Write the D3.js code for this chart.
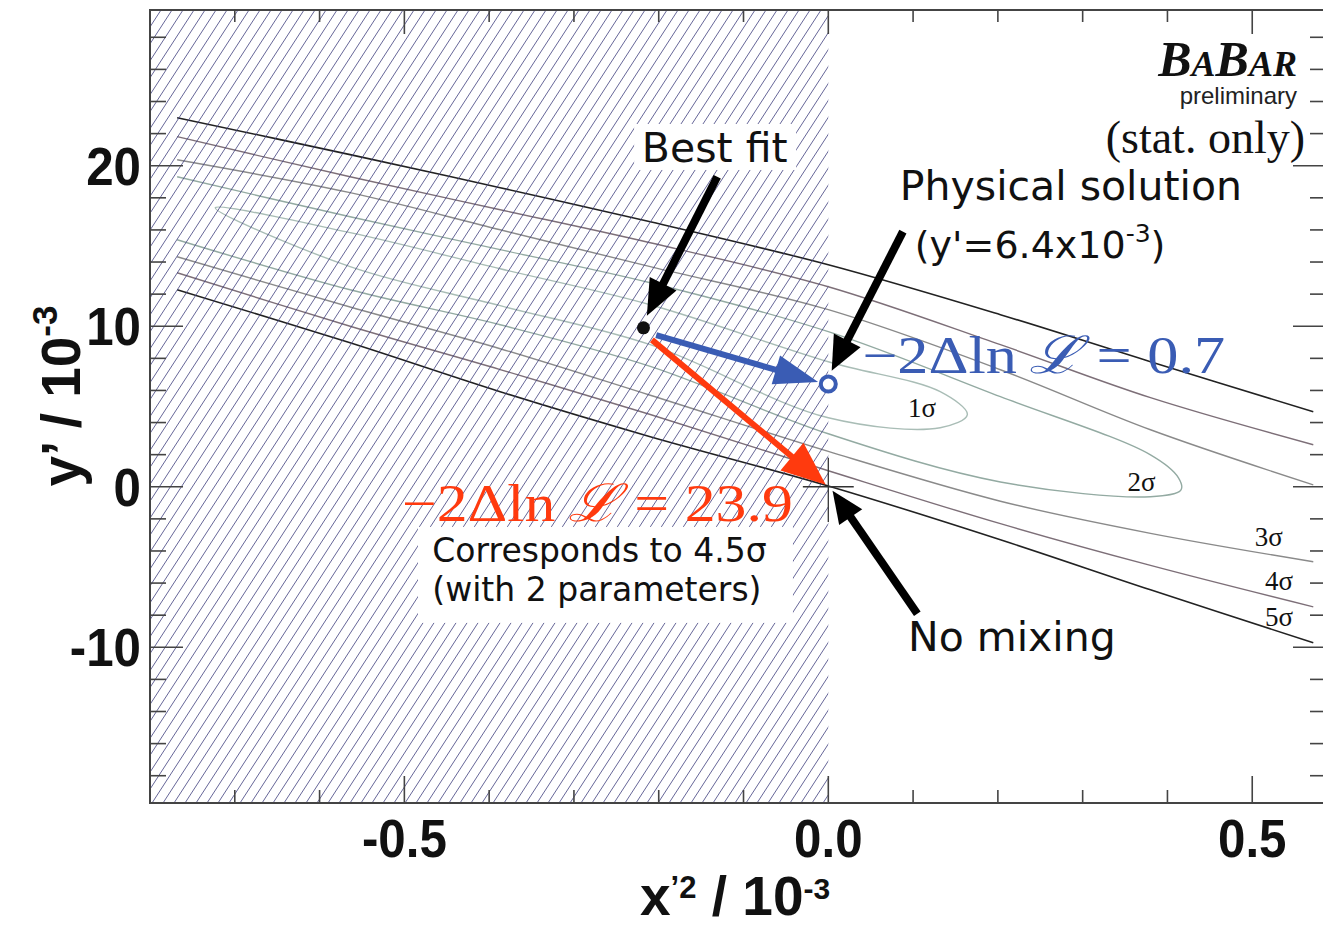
<!DOCTYPE html>
<html>
<head>
<meta charset="utf-8">
<script src="https://cdn.jsdelivr.net/npm/d3@7"></script>
<style>
  body { margin: 0; background: #fff; }
  svg { display: block; }
</style>
</head>
<body>
<svg id="chart" width="1323" height="929"></svg>
<script>
// ---- axis ranges and ticks (x'^2 and y' in units of 10^-3) ----
const xDomain = [-0.8, 0.587];
const yDomain = [-19.7, 29.7];
const xMajorTicks = [-0.5, 0.0, 0.5];
const xTickLabels = ["-0.5", "0.0", "0.5"];
const xMinorStep = 0.1;
const yMajorTicks = [-10, 0, 10, 20];
const yTickLabels = ["-10", "0", "10", "20"];
const yMinorStep = 2;
const physicalBoundary = 0;          // x'^2 < 0 is unphysical

// ---- likelihood contours (x'^2, y') ----
const sigmaNames = ["1σ", "2σ", "3σ", "4σ", "5σ"];
const contour1 = [[-0.723,17.38],[-0.564,15.83],[-0.387,13.58],[-0.210,11.34],[0.000,7.79],
                  [0.132,5.92],[0.164,4.49],[0.132,3.68],[0.000,4.30],[-0.210,8.85],
                  [-0.387,11.28],[-0.564,13.71]];
const contour2 = [[-0.768,19.31],[-0.564,16.82],[-0.387,14.77],[-0.210,12.71],[0.000,9.66],
                  [0.203,5.61],[0.380,1.99],[0.413,0.56],[0.416,-0.19],[0.380,-0.62],
                  [0.203,0.30],[0.000,3.30],[-0.210,7.50],[-0.387,10.09],[-0.564,12.27],[-0.768,15.39]];
const contour3Upper = [[-0.768,20.37],[-0.564,18.32],[-0.387,16.01],[-0.210,13.71],[0.000,11.03],
                       [0.203,7.29],[0.380,3.55],[0.572,0.12]];
const contour3Lower = [[-0.768,14.33],[-0.564,11.20],[-0.387,8.60],[-0.210,5.70],[0.000,2.20],
                       [0.203,-0.90],[0.380,-2.90],[0.572,-4.67]];
const contour4Upper = [[-0.768,21.81],[-0.564,19.31],[-0.387,17.26],[-0.210,15.20],[0.000,12.46],
                       [0.203,8.85],[0.380,5.55],[0.572,2.62]];
const contour4Lower = [[-0.768,13.33],[-0.564,10.00],[-0.387,7.30],[-0.210,4.50],[0.000,1.00],
                       [0.203,-2.30],[0.380,-4.90],[0.572,-7.48]];
const contour5Upper = [[-0.768,22.99],[-0.564,20.69],[-0.387,18.63],[-0.210,16.51],[0.000,13.83],
                       [0.203,10.72],[0.380,7.79],[0.572,4.67]];
const contour5Lower = [[-0.768,12.27],[-0.564,8.97],[-0.387,5.92],[-0.210,3.12],[0.000,0.05],
                       [0.203,-3.30],[0.380,-6.42],[0.572,-9.72]];
const sigmaLabelPos = [[0.094,4.36],[0.353,-0.25],[0.503,-3.68],[0.515,-6.42],[0.515,-8.66]];

// ---- fit points ----
const bestFit = [-0.218, 9.9];
const physicalSolution = [0, 6.4];    // y' = 6.4e-3
const noMixing = [0, 0];
const dLLPhysical = 0.7;
const dLLNoMixing = 23.9;

// ---- layout ----
const frame = { left: 150, right: 1326, top: 10, bottom: 803 };
const svg = d3.select("#chart");
const x = d3.scaleLinear().domain(xDomain).range([frame.left, frame.right]);
const y = d3.scaleLinear().domain(yDomain).range([frame.bottom, frame.top]);

svg.append("defs").append("clipPath").attr("id", "plotClip")
  .append("rect").attr("x", frame.left).attr("y", frame.top)
  .attr("width", frame.right - frame.left).attr("height", frame.bottom - frame.top);

const plot = svg.append("g").attr("clip-path", "url(#plotClip)");

// contours
const line = d3.line().x(d => x(d[0])).y(d => y(d[1])).curve(d3.curveCatmullRom.alpha(0.5));
const lineClosed = d3.line().x(d => x(d[0])).y(d => y(d[1])).curve(d3.curveCatmullRomClosed.alpha(0.5));
const contourColors = ["#a9bdb6", "#93aaa2", "#8a8a8a", "#7d6f78", "#222"];
const contourPaths = [
  { pts: contour1, closed: true, level: 0 },
  { pts: contour2, closed: false, level: 1 },
  { pts: contour3Upper, closed: false, level: 2 },
  { pts: contour3Lower, closed: false, level: 2 },
  { pts: contour4Upper, closed: false, level: 3 },
  { pts: contour4Lower, closed: false, level: 3 },
  { pts: contour5Upper, closed: false, level: 4 },
  { pts: contour5Lower, closed: false, level: 4 }
];
plot.selectAll("path.contour").data(contourPaths).join("path")
  .attr("class", "contour")
  .attr("d", d => d.closed ? lineClosed(d.pts) : line(d.pts))
  .attr("fill", "none")
  .attr("stroke", d => contourColors[d.level])
  .attr("stroke-width", d => d.level === 4 ? 1.6 : 1.4);

// hatching of the unphysical region x'^2 < 0
const hatch = plot.append("g");
const hx0 = x(xDomain[0]), hx1 = x(physicalBoundary);
const hy0 = y(yDomain[1]), hy1 = y(yDomain[0]);
hatch.append("clipPath").attr("id", "hatchClip")
  .append("rect").attr("x", hx0).attr("y", hy0).attr("width", hx1 - hx0).attr("height", hy1 - hy0);
const hatchG = hatch.append("g").attr("clip-path", "url(#hatchClip)");
const angle = 57 * Math.PI / 180;
const spacing = 11.0;
const H = hy1 - hy0;
const run = H / Math.tan(angle);
const hatchStarts = d3.range(hx0 - run - spacing, hx1 + spacing, spacing);
hatchG.selectAll("line").data(hatchStarts).join("line")
  .attr("x1", d => d).attr("y1", hy1)
  .attr("x2", d => d + run).attr("y2", hy0)
  .attr("stroke", "#40407e").attr("stroke-width", 1.0).attr("stroke-opacity", 0.8);

// sigma labels
plot.selectAll("text.sig").data(sigmaNames).join("text")
  .attr("class", "sig")
  .attr("x", (d, i) => x(sigmaLabelPos[i][0]))
  .attr("y", (d, i) => y(sigmaLabelPos[i][1]))
  .attr("font-family", "Liberation Serif, DejaVu Serif, serif")
  .attr("font-size", 27).attr("fill", "#111")
  .text(d => d);

// ---- frame and ticks ----
const axes = svg.append("g").attr("stroke", "#444").attr("fill", "none");
axes.append("rect").attr("x", frame.left).attr("y", frame.top)
  .attr("width", frame.right - frame.left).attr("height", frame.bottom - frame.top)
  .attr("stroke-width", 2);

const xMinor = d3.range(-0.8, 0.6, xMinorStep).map(v => +v.toFixed(2));
const yMinor = d3.range(-18, 30, yMinorStep);
const isMajor = (v, majors) => majors.some(m => Math.abs(m - v) < 1e-6);

xMinor.forEach(v => {
  const L = isMajor(v, xMajorTicks) ? 27 : 13;
  axes.append("line").attr("x1", x(v)).attr("x2", x(v))
    .attr("y1", frame.bottom).attr("y2", frame.bottom - L).attr("stroke-width", 1.6);
  axes.append("line").attr("x1", x(v)).attr("x2", x(v))
    .attr("y1", frame.top).attr("y2", frame.top + (isMajor(v, xMajorTicks) ? 24 : 12)).attr("stroke-width", 1.6);
});
yMinor.forEach(v => {
  const major = isMajor(v, yMajorTicks);
  axes.append("line").attr("x1", frame.left).attr("x2", frame.left + (major ? 33 : 16))
    .attr("y1", y(v)).attr("y2", y(v)).attr("stroke-width", 1.6);
  axes.append("line").attr("x1", frame.right).attr("x2", frame.right - (major ? 33 : 16))
    .attr("y1", y(v)).attr("y2", y(v)).attr("stroke-width", 1.6);
});

// tick labels
const tickFont = "Liberation Sans, Arial, sans-serif";
svg.selectAll("text.xt").data(xMajorTicks).join("text")
  .attr("class", "xt")
  .attr("transform", d => `translate(${x(d)},857) scale(0.93,1)`)
  .attr("text-anchor", "middle")
  .attr("font-family", tickFont).attr("font-weight", "bold").attr("font-size", 53)
  .attr("fill", "#111")
  .text((d, i) => xTickLabels[i]);
svg.selectAll("text.yt").data(yMajorTicks).join("text")
  .attr("class", "yt")
  .attr("transform", d => `translate(141,${y(d) + 19}) scale(0.93,1)`)
  .attr("text-anchor", "end")
  .attr("font-family", tickFont).attr("font-weight", "bold").attr("font-size", 53)
  .attr("fill", "#111")
  .text((d, i) => yTickLabels[i]);

// axis titles
const xt = svg.append("text").attr("x", 640).attr("y", 915)
  .attr("font-family", tickFont).attr("font-weight", "bold").attr("font-size", 55).attr("fill", "#111");
xt.append("tspan").text("x");
xt.append("tspan").attr("dy", -17).attr("font-size", 31).text("’2");
xt.append("tspan").attr("dy", 17).text(" / 10");
xt.append("tspan").attr("dy", -16).attr("font-size", 30).text("-3");

const yt = svg.append("text").attr("transform", "translate(80,396) rotate(-90)")
  .attr("text-anchor", "middle")
  .attr("font-family", tickFont).attr("font-weight", "bold").attr("font-size", 55).attr("fill", "#111");
yt.append("tspan").text("y’ / 10");
yt.append("tspan").attr("dy", -23).attr("font-size", 35).text("-3");

// ---- annotations ----
function arrow(from, to, color, width, headLen, headHalf) {
  const p0 = [x(from[0]), y(from[1])], p1 = [x(to[0]), y(to[1])];
  const dx = p1[0] - p0[0], dy = p1[1] - p0[1];
  const len = Math.hypot(dx, dy);
  const ux = dx / len, uy = dy / len;
  const bx = p1[0] - ux * headLen, by = p1[1] - uy * headLen;
  svg.append("line").attr("x1", p0[0]).attr("y1", p0[1])
    .attr("x2", bx + ux * 2).attr("y2", by + uy * 2)
    .attr("stroke", color).attr("stroke-width", width);
  svg.append("polygon")
    .attr("points", [[p1[0], p1[1]], [bx - uy * headHalf, by + ux * headHalf], [bx + uy * headHalf, by - ux * headHalf]]
      .map(p => p.join(",")).join(" "))
    .attr("fill", color);
}

// no-mixing marker
svg.append("line").attr("x1", x(noMixing[0] - 0.03)).attr("x2", x(noMixing[0] + 0.03))
  .attr("y1", y(noMixing[1])).attr("y2", y(noMixing[1])).attr("stroke", "#333").attr("stroke-width", 1.3);
svg.append("line").attr("x1", x(noMixing[0])).attr("x2", x(noMixing[0]))
  .attr("y1", y(noMixing[1] + 1.8)).attr("y2", y(noMixing[1] - 2.2)).attr("stroke", "#333").attr("stroke-width", 1.3);

// arrows from the best fit
arrow([bestFit[0] + 0.015, bestFit[1] - 0.45], [physicalSolution[0] - 0.012, physicalSolution[1] + 0.12], "#3a5cb4", 6, 44, 15);
arrow([bestFit[0] + 0.01, bestFit[1] - 0.75], [noMixing[0] - 0.003, noMixing[1] + 0.12], "#ff3a0e", 6, 44, 18);

// best fit point and physical solution
svg.append("circle").attr("cx", x(bestFit[0])).attr("cy", y(bestFit[1])).attr("r", 6.5).attr("fill", "#111");
svg.append("circle").attr("cx", x(physicalSolution[0])).attr("cy", y(physicalSolution[1])).attr("r", 7.5)
  .attr("fill", "#fff").attr("stroke", "#3a5cb4").attr("stroke-width", 4);

// text labels
const sans = "DejaVu Sans, Verdana, sans-serif";
const serif = "Liberation Serif, DejaVu Serif, serif";

svg.append("rect").attr("x", x(-0.229)).attr("y", y(22.6)).attr("width", 162).attr("height", 46).attr("fill", "#fff");
svg.append("text").attr("x", x(-0.134)).attr("y", y(20.25)).attr("text-anchor", "middle")
  .attr("font-family", sans).attr("font-size", 41).attr("fill", "#111").text("Best fit");
arrow([-0.131, 19.31], [-0.214, 10.65], "#000", 8, 36, 15);

svg.append("text").attr("x", x(0.0844)).attr("y", y(17.88))
  .attr("font-family", sans).attr("font-size", 41).attr("fill", "#111").text("Physical solution");
const ps = svg.append("text").attr("x", x(0.102)).attr("y", y(14.27))
  .attr("font-family", sans).attr("font-size", 38).attr("fill", "#111");
ps.append("tspan").text(`(y'=${physicalSolution[1]}x10`);
ps.append("tspan").attr("dy", -16).attr("font-size", 25).text("-3");
ps.append("tspan").attr("dy", 16).text(")");
arrow([0.088, 15.89], [0.004, 7.23], "#000", 8, 34, 15);

function dllText(x0, yb, width, value, color) {
  const t = svg.append("text").attr("x", x(x0)).attr("y", y(yb))
    .attr("font-family", serif).attr("font-size", 52).attr("fill", color)
    .attr("textLength", width).attr("lengthAdjust", "spacingAndGlyphs");
  t.append("tspan").text("−2Δln\u2009");
  t.append("tspan").attr("font-family", "DejaVu Serif, serif").attr("font-style", "italic").text("ℒ");
  t.append("tspan").text(` = ${value}`);
}
dllText(0.040, 7.10, 363, dLLPhysical, "#3a5cb4");
dllText(-0.503, -2.12, 391, dLLNoMixing, "#ff3a0e");

svg.append("rect").attr("x", x(-0.484)).attr("y", y(-2.50)).attr("width", 375).attr("height", 96).attr("fill", "#fff");
svg.append("text").attr("x", x(-0.467)).attr("y", y(-4.67))
  .attr("font-family", sans).attr("font-size", 33).attr("fill", "#111").text("Corresponds to 4.5σ");
svg.append("text").attr("x", x(-0.467)).attr("y", y(-7.10))
  .attr("font-family", sans).attr("font-size", 33).attr("fill", "#111").text("(with 2 parameters)");

svg.append("text").attr("x", x(0.094)).attr("y", y(-10.22))
  .attr("font-family", sans).attr("font-size", 41).attr("fill", "#111").text("No mixing");
arrow([0.105, -7.91], [0.005, -0.25], "#000", 8, 32, 14);

// experiment tag
const logo = svg.append("text").attr("x", 1297).attr("y", 76).attr("text-anchor", "end")
  .attr("font-family", serif).attr("font-style", "italic").attr("font-weight", "bold").attr("fill", "#111");
logo.append("tspan").attr("font-size", 50).text("B");
logo.append("tspan").attr("font-size", 36).text("A");
logo.append("tspan").attr("font-size", 50).text("B");
logo.append("tspan").attr("font-size", 36).text("AR");
svg.append("text").attr("x", 1297).attr("y", 104).attr("text-anchor", "end")
  .attr("font-family", "Liberation Sans, Arial, sans-serif").attr("font-size", 24).attr("fill", "#222").text("preliminary");
svg.append("text").attr("x", 1305).attr("y", 153).attr("text-anchor", "end")
  .attr("font-family", serif).attr("font-size", 46).attr("fill", "#111").text("(stat. only)");
</script>
</body>
</html>
